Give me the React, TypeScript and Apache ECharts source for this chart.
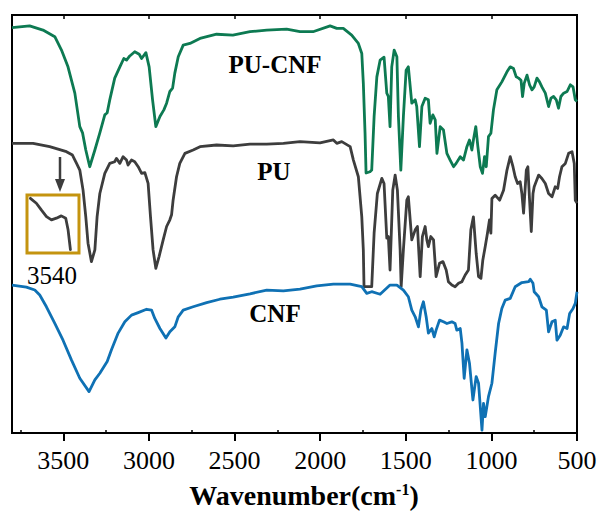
import React, { useEffect, useRef } from "react";
import * as echarts from "echarts";

// FTIR spectra: [wavenumber (cm-1), transmittance (a.u.)]
const puCnf: number[][] = [
  [3800, 97.0], [3697, 97.4], [3619, 96.4], [3550, 94.8], [3511, 91.6], [3473, 87.6], [3433, 81.3],
  [3404, 73.3], [3388, 71.8], [3369, 67.7], [3346, 63.7], [3316, 67.7], [3287, 71.8], [3258, 76.1],
  [3244, 76.6], [3229, 79.7], [3200, 84.9], [3170, 87.6], [3147, 89.6], [3131, 89.2], [3112, 90.2],
  [3083, 91.2], [3057, 90.6], [3043, 89.6], [3018, 91.0], [2999, 87.6], [2979, 79.7], [2960, 73.3],
  [2936, 75.7], [2913, 77.3], [2897, 78.9], [2878, 81.7], [2862, 82.5], [2849, 86.1], [2829, 90.0],
  [2800, 92.8], [2761, 93.2], [2702, 94.4], [2605, 95.4], [2510, 95.2], [2410, 96.0], [2312, 96.4],
  [2196, 96.6], [2118, 96.0], [2042, 96.0], [1942, 97.4], [1903, 96.8], [1865, 96.8], [1816, 95.2],
  [1777, 93.2], [1757, 90.8], [1748, 83.7], [1738, 71.8], [1732, 62.2], [1709, 62.5], [1699, 62.9],
  [1685, 75.7], [1669, 85.2], [1650, 89.2], [1627, 89.9], [1611, 81.3], [1602, 80.5], [1592, 73.3],
  [1582, 87.6], [1568, 91.6], [1552, 90.0], [1543, 75.7], [1529, 62.9], [1514, 75.7], [1498, 86.8],
  [1485, 87.6], [1465, 78.9], [1445, 79.7], [1436, 78.1], [1420, 68.5], [1406, 78.1], [1387, 80.1],
  [1368, 79.7], [1358, 74.1], [1342, 76.1], [1328, 74.9], [1318, 66.9], [1299, 73.3], [1280, 72.5],
  [1260, 66.9], [1241, 65.3], [1221, 63.7], [1206, 64.5], [1182, 66.1], [1163, 65.3], [1143, 68.5],
  [1128, 70.1], [1114, 67.7], [1105, 70.1], [1091, 73.3], [1079, 68.5], [1065, 63.7], [1052, 62.1],
  [1040, 66.1], [1030, 63.7], [1017, 70.9], [1003, 71.7], [988, 77.3], [968, 82.1], [939, 84.0],
  [909, 86.4], [890, 87.6], [871, 87.2], [855, 85.2], [841, 84.9], [827, 84.4], [818, 80.5],
  [808, 83.7], [792, 85.6], [777, 83.3], [763, 82.1], [750, 82.8], [734, 84.9], [719, 84.0],
  [705, 82.8], [685, 81.3], [666, 78.1], [652, 80.1], [637, 80.5], [621, 79.7], [608, 77.7],
  [594, 80.5], [578, 81.3], [558, 81.7], [539, 83.3], [523, 82.8], [510, 79.7], [500, 79.3],
];

const pu: number[][] = [
  [3800, 69.3], [3677, 69.3], [3580, 68.5], [3482, 67.3], [3447, 66.5], [3423, 64.5], [3404, 62.9],
  [3385, 58.1], [3369, 51.7], [3356, 45.4], [3336, 41.0], [3316, 43.8], [3303, 51.7], [3287, 57.3],
  [3258, 62.1], [3229, 64.5], [3200, 64.9], [3190, 65.7], [3170, 64.5], [3151, 66.1], [3131, 65.3],
  [3122, 64.1], [3102, 65.3], [3083, 64.9], [3063, 63.7], [3043, 62.1], [3024, 62.3], [3005, 59.7],
  [2991, 51.7], [2976, 43.8], [2960, 39.4], [2941, 42.2], [2917, 46.2], [2897, 49.4], [2878, 51.0],
  [2868, 52.2], [2859, 55.7], [2839, 61.3], [2820, 64.5], [2790, 66.9], [2742, 67.7], [2702, 68.5],
  [2605, 68.9], [2508, 68.7], [2410, 69.1], [2312, 69.1], [2215, 69.3], [2118, 69.7], [2001, 69.4],
  [1923, 70.1], [1903, 69.3], [1874, 69.7], [1825, 68.5], [1806, 65.3], [1777, 61.3], [1757, 51.7],
  [1748, 43.8], [1744, 35.0], [1699, 35.0], [1685, 47.8], [1666, 57.3], [1640, 60.9], [1627, 59.7],
  [1611, 46.6], [1602, 47.0], [1592, 39.0], [1576, 58.1], [1562, 61.7], [1549, 58.1], [1533, 43.8],
  [1527, 35.0], [1514, 43.8], [1494, 55.7], [1485, 56.5], [1465, 46.2], [1445, 48.6], [1432, 49.4],
  [1416, 37.4], [1403, 47.0], [1387, 49.4], [1377, 46.2], [1368, 44.6], [1354, 47.0], [1338, 46.2],
  [1323, 37.4], [1303, 40.6], [1283, 41.0], [1264, 39.0], [1251, 36.2], [1231, 35.4], [1212, 35.0],
  [1192, 35.8], [1172, 36.2], [1153, 37.8], [1134, 39.0], [1120, 48.6], [1105, 51.7], [1089, 43.0],
  [1075, 37.4], [1061, 37.0], [1050, 41.4], [1036, 44.6], [1023, 47.8], [1011, 51.0], [1003, 47.8],
  [997, 56.1], [978, 56.9], [952, 55.7], [929, 58.1], [909, 62.9], [890, 66.1], [874, 63.7],
  [861, 61.3], [847, 59.7], [832, 60.1], [822, 57.3], [812, 52.6], [796, 62.9], [787, 63.7],
  [777, 55.7], [767, 48.2], [757, 57.3], [750, 58.9], [724, 61.7], [705, 60.9], [685, 59.7],
  [666, 57.3], [646, 56.5], [627, 58.9], [613, 58.5], [602, 61.3], [588, 63.7], [568, 64.5],
  [549, 66.9], [529, 67.3], [516, 64.5], [510, 55.7], [500, 55.0],
];

const cnf: number[][] = [
  [3800, 35.4], [3716, 34.9], [3667, 34.2], [3638, 33.0], [3599, 30.2], [3550, 26.2], [3502, 22.2],
  [3453, 17.5], [3404, 13.1], [3350, 9.9], [3316, 12.7], [3287, 14.3], [3244, 17.1], [3219, 19.9],
  [3180, 23.9], [3141, 26.6], [3102, 28.2], [3063, 28.8], [3014, 29.6], [2985, 29.4], [2966, 27.4],
  [2936, 25.0], [2901, 22.7], [2878, 24.2], [2849, 25.4], [2829, 27.8], [2800, 29.4], [2742, 30.2],
  [2663, 31.2], [2586, 32.0], [2508, 32.5], [2410, 33.3], [2312, 34.2], [2215, 34.0], [2118, 34.4],
  [2020, 35.2], [1923, 35.6], [1825, 35.6], [1757, 35.0], [1728, 33.4], [1699, 33.8], [1650, 33.2],
  [1592, 35.4], [1552, 35.4], [1514, 34.2], [1485, 32.6], [1465, 29.4], [1445, 27.8], [1426, 25.4],
  [1412, 29.4], [1397, 31.4], [1381, 27.8], [1368, 23.9], [1348, 25.0], [1334, 23.0], [1323, 24.6],
  [1303, 27.0], [1280, 26.6], [1260, 26.2], [1231, 26.6], [1212, 26.2], [1202, 24.6], [1182, 25.0],
  [1172, 21.5], [1159, 13.1], [1143, 19.9], [1128, 16.7], [1108, 7.9], [1089, 13.5], [1075, 11.9],
  [1055, 0.7], [1046, 7.1], [1036, 3.9], [1017, 8.7], [997, 11.9], [978, 19.1], [958, 26.2],
  [939, 29.8], [919, 31.8], [890, 32.2], [861, 35.0], [822, 36.0], [783, 36.2], [773, 36.8],
  [757, 35.8], [750, 33.8], [724, 32.6], [705, 30.2], [679, 29.4], [666, 24.2], [646, 26.6],
  [627, 27.0], [617, 22.2], [598, 23.4], [578, 25.4], [558, 25.0], [543, 28.6], [523, 29.8],
  [510, 31.0], [500, 33.8],
];

// Magnified PU shoulder around 3540 cm-1 (inset)
const puInset: number[][] = [
  [3637, 9.43], [3614, 8.58], [3595, 7.43], [3575, 6.28], [3556, 5.71], [3537, 6.0], [3518, 6.4],
  [3501, 6.0], [3492, 4.0], [3483, 0.57],
];

const majorTicks = [3500, 3000, 2500, 2000, 1500, 1000, 500];
const minorTicks = [3750, 3250, 2750, 2250, 1750, 1250, 750];

const GREEN = "#0d7a52";
const GRAY = "#3d3d3d";
const BLUE = "#0f71b4";
const GOLD = "#c4940f";
const SERIF = "'Liberation Serif', 'Times New Roman', serif";
const LINE_W = 2.8;

export default function App() {
  const ref = useRef<HTMLDivElement>(null);

  useEffect(() => {
    if (!ref.current) return;
    const chart = echarts.init(ref.current, undefined, { renderer: "svg" });

    const hiddenX = (gridIndex: number, min: number, max: number) => ({
      type: "value" as const,
      gridIndex,
      min,
      max,
      inverse: true,
      axisLine: { show: false },
      axisTick: { show: false },
      axisLabel: { show: false },
      splitLine: { show: false },
    });

    chart.setOption({
      animation: false,
      backgroundColor: "#fff",
      grid: [
        { left: 12, right: 25, top: 15, bottom: 78, show: true, borderColor: "#000", borderWidth: 2, backgroundColor: "transparent" },
        { left: 27, top: 195, width: 52, height: 58, show: true, borderColor: GOLD, borderWidth: 3, backgroundColor: "transparent" },
      ],
      xAxis: [
        {
          type: "value",
          gridIndex: 0,
          min: 500,
          max: 3800,
          interval: 500,
          inverse: true,
          axisLine: { show: false },
          axisTick: { show: true, inside: false, length: 8, lineStyle: { color: "#000", width: 2 }, customValues: majorTicks },
          axisLabel: {
            show: true,
            margin: 14,
            fontSize: 26,
            fontFamily: SERIF,
            color: "#000",
            customValues: majorTicks,
            formatter: (v: number) => String(v),
          },
          splitLine: { show: false },
        },
        {
          ...hiddenX(0, 500, 3800),
          position: "bottom",
          axisTick: { show: true, inside: true, length: 3, lineStyle: { color: "#000", width: 1.5 }, customValues: minorTicks },
        },
        {
          ...hiddenX(0, 500, 3800),
          position: "top",
          axisTick: { show: true, inside: true, length: 4, lineStyle: { color: "#000", width: 1.5 }, customValues: majorTicks },
        },
        hiddenX(1, 3450, 3650),
      ],
      yAxis: [
        { type: "value", gridIndex: 0, min: 0, max: 100, show: false },
        { type: "value", gridIndex: 1, min: 0, max: 10, show: false },
      ],
      series: [
        { name: "PU-CNF", type: "line", xAxisIndex: 0, yAxisIndex: 0, data: puCnf, showSymbol: false, lineStyle: { color: GREEN, width: LINE_W, join: "round" }, itemStyle: { color: GREEN } },
        { name: "PU", type: "line", xAxisIndex: 0, yAxisIndex: 0, data: pu, showSymbol: false, lineStyle: { color: GRAY, width: LINE_W, join: "round" }, itemStyle: { color: GRAY } },
        { name: "CNF", type: "line", xAxisIndex: 0, yAxisIndex: 0, data: cnf, showSymbol: false, lineStyle: { color: BLUE, width: LINE_W, join: "round" }, itemStyle: { color: BLUE } },
        { name: "PU inset", type: "line", xAxisIndex: 3, yAxisIndex: 1, data: puInset, showSymbol: false, lineStyle: { color: GRAY, width: LINE_W, cap: "round", join: "round" }, itemStyle: { color: GRAY } },
      ],
      graphic: [
        { type: "text", x: 275, y: 64, style: { text: "PU-CNF", fontSize: 25, fontWeight: "bold", fontFamily: SERIF, fill: "#000", textAlign: "center", textVerticalAlign: "middle" } },
        { type: "text", x: 274, y: 171, style: { text: "PU", fontSize: 25, fontWeight: "bold", fontFamily: SERIF, fill: "#000", textAlign: "center", textVerticalAlign: "middle" } },
        { type: "text", x: 275, y: 313, style: { text: "CNF", fontSize: 25, fontWeight: "bold", fontFamily: SERIF, fill: "#000", textAlign: "center", textVerticalAlign: "middle" } },
        { type: "text", x: 52, y: 275, style: { text: "3540", fontSize: 25, fontFamily: SERIF, fill: "#000", textAlign: "center", textVerticalAlign: "middle" } },
        { type: "line", shape: { x1: 60, y1: 157, x2: 60, y2: 182 }, style: { stroke: GRAY, lineWidth: 2.5 } },
        { type: "polygon", shape: { points: [[55, 179], [65, 179], [60, 192]] }, style: { fill: GRAY } },
        {
          type: "text",
          x: 304,
          y: 495,
          style: {
            text: "{b|Wavenumber(cm}{s|-1}{b|)}",
            textAlign: "center",
            textVerticalAlign: "middle",
            fill: "#000",
            rich: {
              b: { fontSize: 28, fontWeight: "bold", fontFamily: SERIF, fill: "#000" },
              s: { fontSize: 16, fontWeight: "bold", fontFamily: SERIF, fill: "#000", verticalAlign: "top" },
            },
          },
        },
      ],
    });

    return () => chart.dispose();
  }, []);

  return (
    <div
      ref={ref}
      style={{ position: "absolute", left: 0, top: 0, width: 602, height: 511, background: "#fff" }}
    />
  );
}
